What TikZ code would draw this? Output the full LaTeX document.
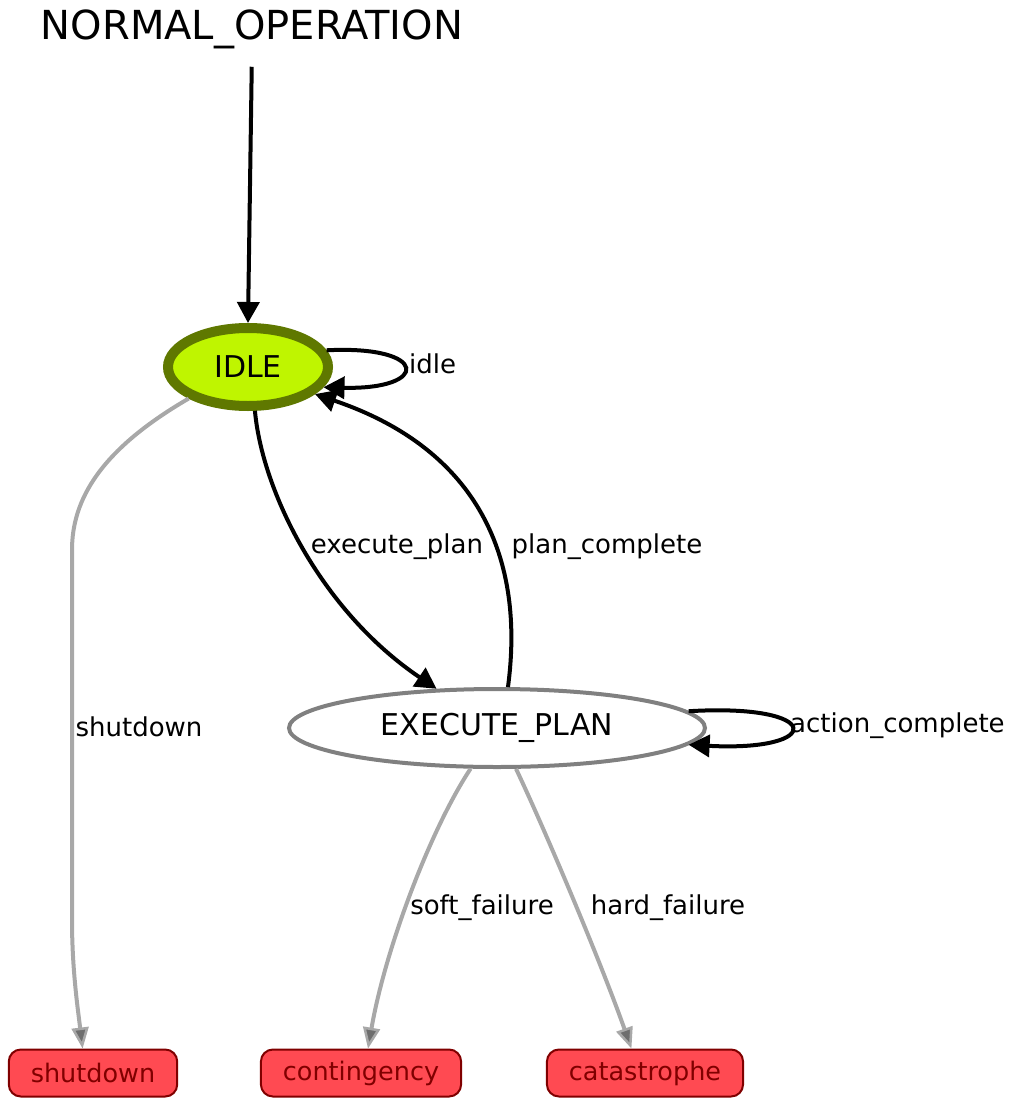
\documentclass[tikz,border=0pt]{standalone}
\usepackage{fontspec}
\setmainfont{DejaVu Sans}
\usepackage{xcolor}
\usepackage{tikz}
\usetikzlibrary{arrows.meta,shapes.geometric}
\definecolor{idlefill}{HTML}{BFF500}
\definecolor{idleborder}{HTML}{5F7800}
\definecolor{failfill}{HTML}{FF4A52}
\definecolor{failborder}{HTML}{800000}
\definecolor{failline}{HTML}{A8A8A8}
\definecolor{failtip}{HTML}{6E6E6E}
\definecolor{planborder}{HTML}{808080}
\tikzset{
  state/.style={ellipse, draw, inner sep=0pt, font=\fontsize{30pt}{36pt}\selectfont},
  failbox/.style={rectangle, rounded corners=12pt, draw=failborder, fill=failfill, line width=2pt, text=failborder, minimum height=47pt, inner xsep=22pt, font=\fontsize{25.5pt}{30pt}\selectfont},
  trans/.style={line width=4pt, -{Triangle[length=21pt,width=22pt]}},
  failtrans/.style={line width=4pt, draw=failline, -{Triangle[length=21pt,width=17pt,fill=failtip,line width=2.5pt]}},
  lbl/.style={font=\fontsize{26pt}{31pt}\selectfont, inner sep=0pt},
}

\begin{document}
\begin{tikzpicture}[x=1pt, y=-1pt]%
\useasboundingbox (0,0) rectangle (1021,1108);%
\node[font=\fontsize{40pt}{48pt}\selectfont, inner sep=0pt] (normal) at (252,29) {NORMAL\_OPERATION};%
\node[state, fill=idlefill, draw=idleborder, line width=10pt, minimum width=160pt, minimum height=78pt] (idle) at (248,367) {IDLE};%
\node[state, fill=white, draw=planborder, line width=4pt, minimum width=416pt, minimum height=78pt] (exec) at (497,728) {EXECUTE\_PLAN};%
\node[failbox] (shut) at (93,1073) {shutdown};%
\node[failbox] (cont) at (361,1073) {contingency};%
\node[failbox] (cata) at (645,1073) {catastrophe};%
% transitions
\draw[trans, shorten <=18pt] (normal.south) -- (idle.north);%
\draw[trans] (idle.12) .. controls (430,345) and (430,390) .. (idle.-15);%
\draw[trans] (idle.-81) .. controls (262,490) and (320,610) .. (exec.147);%
\draw[trans] (exec.75) .. controls (525,560) and (480,450) .. (idle.-22);%
\draw[trans] (exec.5) .. controls (825,703) and (825,752) .. (exec.-5);%
\draw[failtrans] (idle.208) .. controls (100,450) and (72,500) .. (72,550) -- (72,920) .. controls (72,970) and (78,1010) .. (shut.113);%
\draw[failtrans] (exec.237) .. controls (430,830) and (385,950) .. (cont.74);%
\draw[failtrans] (exec.295) .. controls (545,830) and (600,960) .. (cata.119);%
% labels
\node[lbl, anchor=west] (lidle) at (409,364) {idle};%
\node[lbl, anchor=west] (laction) at (790,726) {action\_complete};%
\node[lbl] (lexecute) at (397,547) {execute\_plan};%
\node[lbl] (lplan) at (607,547) {plan\_complete};%
\node[lbl] (lshut) at (139,727) {shutdown};%
\node[lbl] (lsoft) at (482,908) {soft\_failure};%
\node[lbl] (lhard) at (668,908) {hard\_failure};%
\end{tikzpicture}
\end{document}
